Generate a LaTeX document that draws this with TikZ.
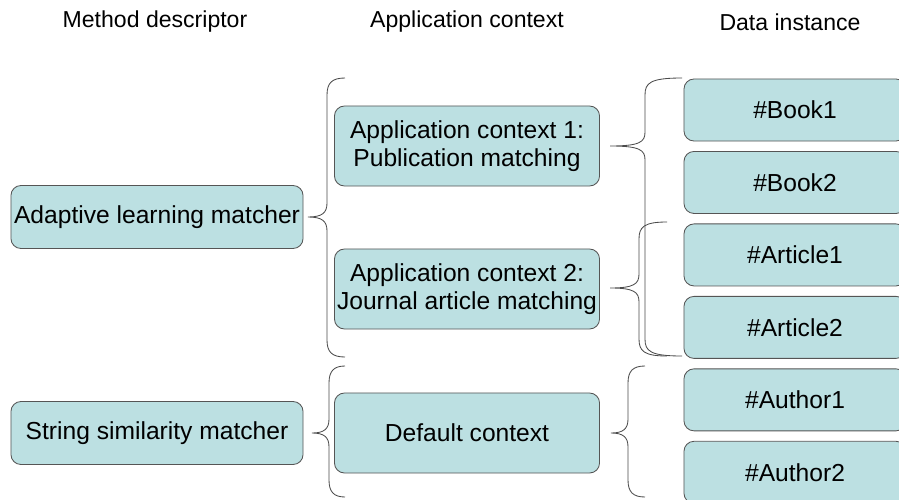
\documentclass[tikz,border=0pt]{standalone}
\usepackage{fontspec}
\setmainfont{Liberation Sans}
\usetikzlibrary{positioning}
\definecolor{boxfill}{RGB}{188,224,226}
\definecolor{boxline}{RGB}{85,85,85}
\definecolor{braceline}{RGB}{75,75,75}

\begin{document}
\begin{tikzpicture}[x=0.025cm, y=-0.025cm,
      box/.style={draw=boxline, fill=boxfill, rounded corners=0.25cm,
        line width=0.6pt, align=center, inner sep=0pt,
        font=\fontsize{17.5}{20}\selectfont},
      method/.style={box, minimum width=7.3cm, minimum height=1.575cm},
      context/.style={box, minimum width=6.625cm, minimum height=2cm},
      instance/.style={box, minimum width=5.55cm, minimum height=1.55cm},
      heading/.style={font=\fontsize{16.4}{20}\selectfont},
      curly/.style={draw=braceline, line width=0.6pt}]

      \clip (0,0) rectangle (899,499);

      % column headings
      \node[heading] (hmethod) at (155,22) {Method descriptor};
      \node[heading] (hcontext) at (467,22) {Application context};
      \node[heading] (hdata) at (790,22) {Data instance};

      % method descriptors
      \node[method] (adaptive) at (157,217) {Adaptive learning matcher};
      \node[method] (string) at (157,433) {String similarity matcher};

      % application contexts
      \node[context] (ctx1) at (467,146) {Application context 1:\\Publication matching};
      \node[context] (ctx2) at (467,289) {Application context 2:\\Journal article matching};
      \node[context] (ctxdef) at (467,433) {Default context};

      % data instances
      \node[instance] (book1) at (795,110) {\#Book1};
      \node[instance, below=0.24cm of book1] (book2) {\#Book2};
      \node[instance, below=0.24cm of book2] (article1) {\#Article1};
      \node[instance, below=0.24cm of article1] (article2) {\#Article2};
      \node[instance, below=0.24cm of article2] (author1) {\#Author1};
      \node[instance, below=0.24cm of author1] (author2) {\#Author2};

      % braces: end x / stem x / tip x / top y / tip y / bottom y
      \foreach \xe/\xs/\xt/\yt/\yp/\yb in {345/327/308/78/217/357,
          345/329/312/366/433/497, 682/645/610/78/146/356,
          667/639/610/222/288/356, 645/628/611/366/433/497} {
        \draw[curly] (\xe,\yt) .. controls (\xs+5,\yt) and (\xs,\yt+5) .. (\xs,\yt+17)
          -- (\xs,\yp-14) .. controls (\xs,\yp-4) and (\xs-5,\yp) .. (\xt,\yp)
          .. controls (\xs-5,\yp) and (\xs,\yp+4) .. (\xs,\yp+14)
          -- (\xs,\yb-17) .. controls (\xs,\yb-5) and (\xs+5,\yb) .. (\xe,\yb);
      };
    \end{tikzpicture}
\end{document}
